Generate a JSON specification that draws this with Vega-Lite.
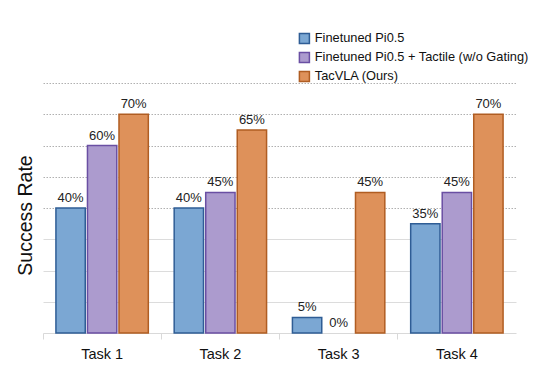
{
  "$schema": "https://vega.github.io/schema/vega-lite/v6.json",
  "width": 473,
  "height": 250,
  "autosize": {"type": "none"},
  "padding": {"left": 43, "top": 83, "right": 35, "bottom": 42},
  "background": "white",
  "config": {
    "font": "Liberation Sans",
    "view": {"stroke": null}
  },
  "data": {
    "values": [
      {"task": "Task 1", "method": "Finetuned Pi0.5", "rate": 0.40},
      {"task": "Task 1", "method": "Finetuned Pi0.5 + Tactile (w/o Gating)", "rate": 0.60},
      {"task": "Task 1", "method": "TacVLA (Ours)", "rate": 0.70},
      {"task": "Task 2", "method": "Finetuned Pi0.5", "rate": 0.40},
      {"task": "Task 2", "method": "Finetuned Pi0.5 + Tactile (w/o Gating)", "rate": 0.45},
      {"task": "Task 2", "method": "TacVLA (Ours)", "rate": 0.65},
      {"task": "Task 3", "method": "Finetuned Pi0.5", "rate": 0.05},
      {"task": "Task 3", "method": "Finetuned Pi0.5 + Tactile (w/o Gating)", "rate": 0.0},
      {"task": "Task 3", "method": "TacVLA (Ours)", "rate": 0.45},
      {"task": "Task 4", "method": "Finetuned Pi0.5", "rate": 0.35},
      {"task": "Task 4", "method": "Finetuned Pi0.5 + Tactile (w/o Gating)", "rate": 0.45},
      {"task": "Task 4", "method": "TacVLA (Ours)", "rate": 0.70}
    ]
  },
  "encoding": {
    "x": {
      "field": "task", "type": "nominal", "title": null,
      "scale": {"paddingInner": 0, "paddingOuter": 0},
      "axis": {
        "labelAngle": 0, "labelFontSize": 14.5, "labelColor": "#111", "labelPadding": 8,
        "domainColor": "#d9d9d9", "tickColor": "#d9d9d9", "tickSize": 6,
        "bandPosition": 0, "labelBound": false
      }
    },
    "xOffset": {
      "field": "method", "type": "nominal",
      "scale": {"paddingInner": 0.07, "paddingOuter": 0.41}
    },
    "y": {
      "field": "rate", "type": "quantitative", "title": "Success Rate",
      "scale": {"domain": [0, 0.8], "nice": false},
      "axis": {
        "values": [0.1, 0.2, 0.3, 0.4, 0.5, 0.6, 0.7, 0.8],
        "labels": false, "ticks": false, "domain": false,
        "titleFontSize": 19.5, "titleFontWeight": "normal", "titleColor": "#111", "titlePadding": 8,
        "titleY": 132,
        "grid": true,
        "gridColor": {"condition": {"test": "datum.value >= 0.39", "value": "#b0b0b0"}, "value": "#dcdcdc"},
        "gridDash": {"condition": {"test": "datum.value >= 0.39", "value": [1.5, 1.5]}, "value": []},
        "gridWidth": 1
      }
    }
  },
  "layer": [
    {
      "mark": {"type": "bar"},
      "encoding": {
        "strokeWidth": {"condition": {"test": "datum.rate == 0", "value": 0}, "value": 1.5},
        "fill": {
          "field": "method", "type": "nominal",
          "scale": {
            "domain": ["Finetuned Pi0.5", "Finetuned Pi0.5 + Tactile (w/o Gating)", "TacVLA (Ours)"],
            "range": ["#7BA7D3", "#AC9BCE", "#DE915A"]
          },
          "legend": {
            "title": null, "orient": "none", "legendX": 255, "legendY": -51,
            "symbolType": "square", "symbolSize": 100, "symbolStrokeWidth": 1.5,
            "labelFontSize": 12.8, "labelColor": "#111", "rowPadding": 2, "labelOffset": 4,
            "labelLimit": 400, "symbolOpacity": 1
          }
        },
        "stroke": {
          "field": "method", "type": "nominal",
          "scale": {
            "domain": ["Finetuned Pi0.5", "Finetuned Pi0.5 + Tactile (w/o Gating)", "TacVLA (Ours)"],
            "range": ["#2F5D95", "#6A4FA3", "#B05D22"]
          },
          "legend": {
            "title": null, "orient": "none", "legendX": 255, "legendY": -51,
            "symbolType": "square", "symbolSize": 100, "symbolStrokeWidth": 1.5,
            "labelFontSize": 12.8, "labelColor": "#111", "rowPadding": 2, "labelOffset": 4,
            "labelLimit": 400
          }
        }
      }
    },
    {
      "mark": {"type": "text", "dy": -6, "baseline": "alphabetic", "fontSize": 13, "color": "#222"},
      "encoding": {
        "text": {"field": "rate", "type": "quantitative", "format": ".0%"}
      }
    }
  ]
}
